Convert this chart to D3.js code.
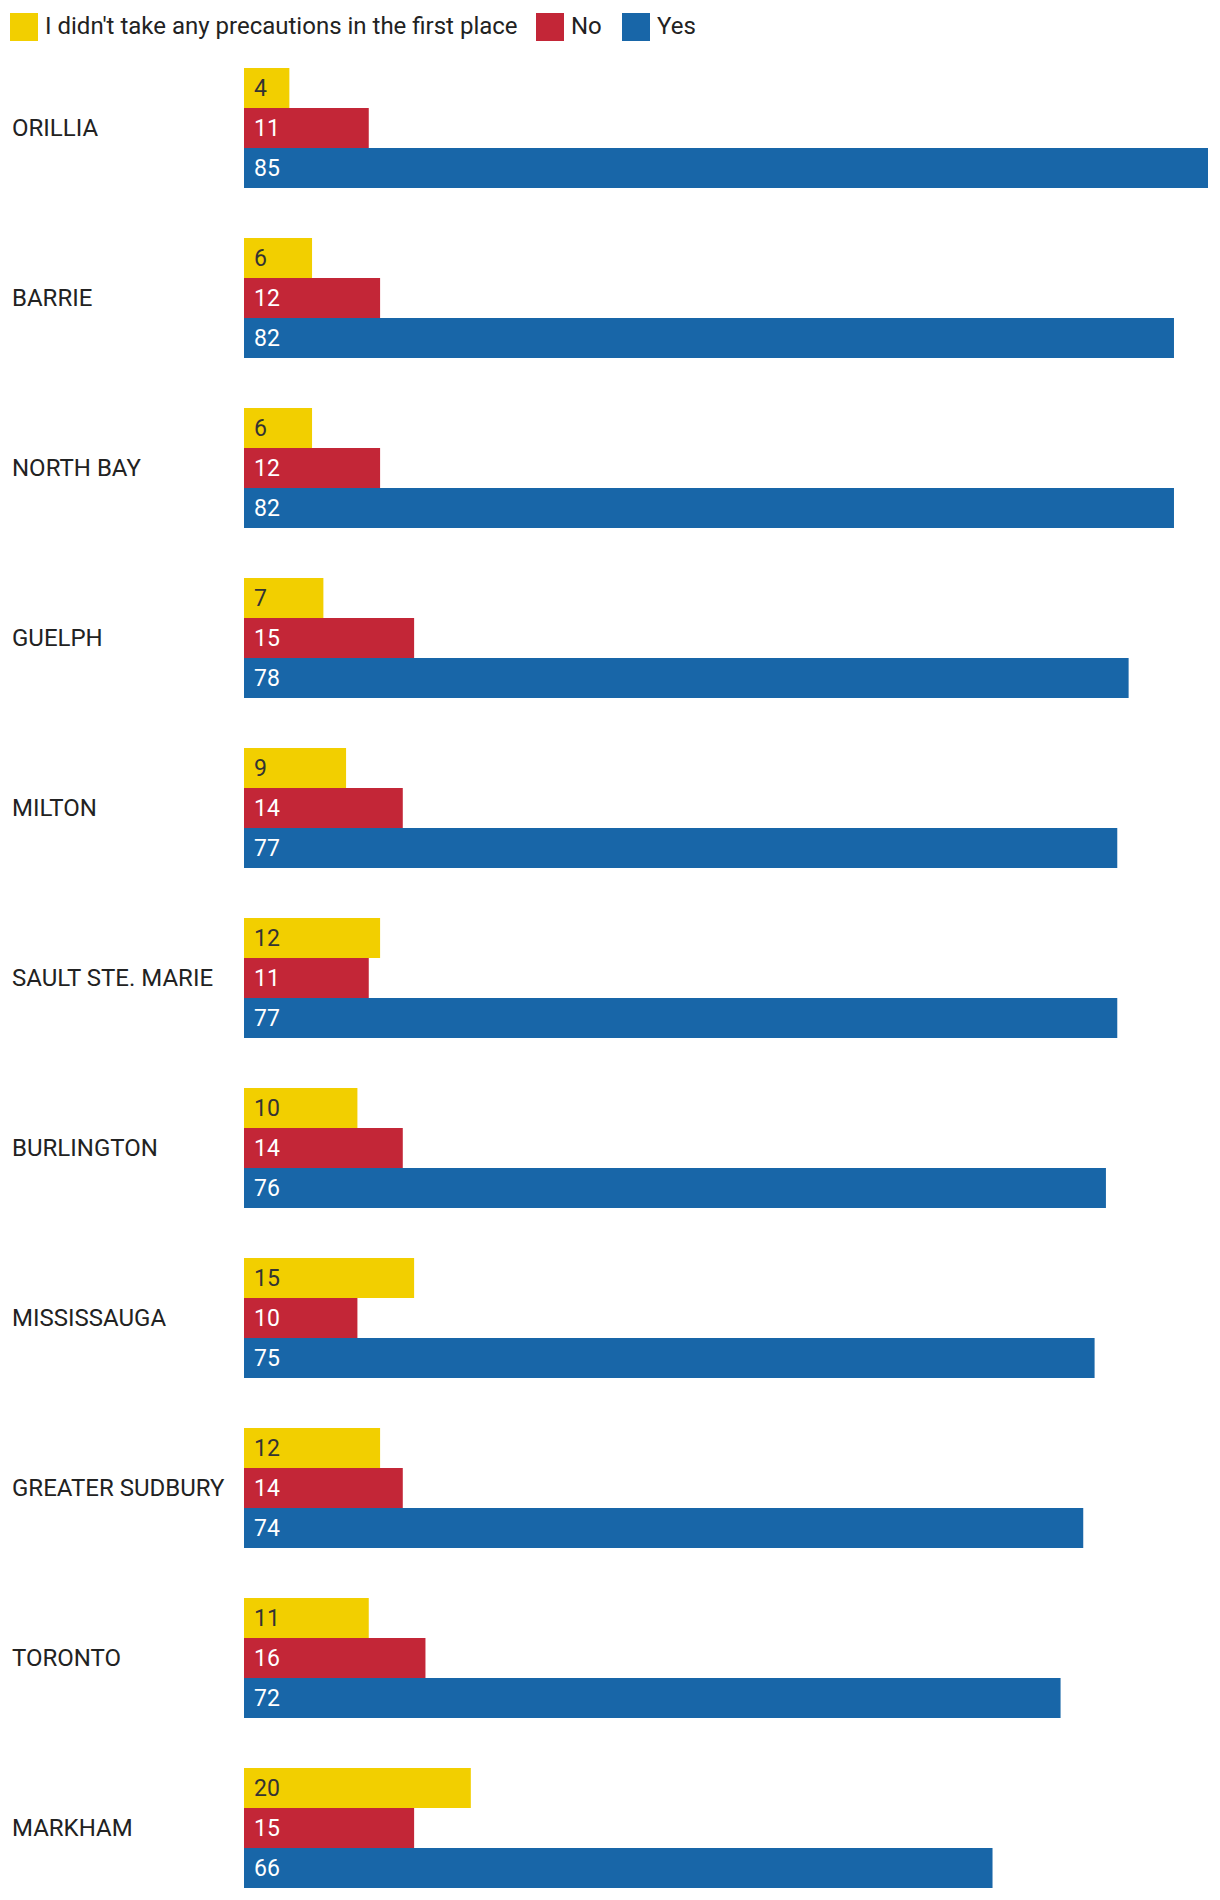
<!DOCTYPE html>
<html>
<head>
<meta charset="utf-8">
<script src="https://cdn.jsdelivr.net/npm/d3@7"></script>
<style>
  html, body { margin: 0; padding: 0; background: #fff; }
  svg { display: block; font-family: Roboto, "Noto Sans", sans-serif; }
</style>
</head>
<body>
<svg id="chart" width="1220" height="1900"></svg>
<script>
const categories = ["ORILLIA", "BARRIE", "NORTH BAY", "GUELPH", "MILTON", "SAULT STE. MARIE", "BURLINGTON", "MISSISSAUGA", "GREATER SUDBURY", "TORONTO", "MARKHAM"];
const seriesNames = ["I didn't take any precautions in the first place", "No", "Yes"];
const noPrecautions = [4, 6, 6, 7, 9, 12, 10, 15, 12, 11, 20];
const noValues = [11, 12, 12, 15, 14, 11, 14, 10, 14, 16, 15];
const yesValues = [85, 82, 82, 78, 77, 77, 76, 75, 74, 72, 66];
const seriesColors = ["#f2cf00", "#c32637", "#1866a8"];
const labelColors = ["#333333", "#ffffff", "#ffffff"];

const seriesValues = [noPrecautions, noValues, yesValues];
const svg = d3.select("#chart");

const x = d3.scaleLinear().domain([0, 85]).range([244, 1208]);
const y = d3.scaleBand().domain(categories).range([68, 1888]).paddingInner(50 / 170).paddingOuter(0);
const yInner = d3.scaleBand().domain(d3.range(seriesNames.length)).range([0, y.bandwidth()]).padding(0);

// Legend
const legend = svg.append("g");
const legendX = [10, 536, 622];
seriesNames.forEach((name, i) => {
  const g = legend.append("g").attr("transform", `translate(${legendX[i]},13)`);
  g.append("rect").attr("width", 28).attr("height", 28).attr("fill", seriesColors[i]);
  g.append("text").attr("x", 35).attr("y", 13).attr("dy", "0.35em")
    .attr("font-size", 24).attr("fill", "#222").text(name);
});

// Groups
const groups = svg.append("g").selectAll("g.cat").data(categories).join("g")
  .attr("class", "cat")
  .attr("transform", d => `translate(0,${y(d)})`);

groups.append("text")
  .attr("x", 12)
  .attr("y", y.bandwidth() / 2)
  .attr("dy", "0.35em")
  .attr("font-size", 24)
  .attr("fill", "#222")
  .text(d => d);

groups.each(function(cat, ci) {
  const g = d3.select(this);
  seriesValues.forEach((vals, si) => {
    g.append("rect")
      .attr("x", x(0))
      .attr("y", yInner(si))
      .attr("width", x(vals[ci]) - x(0))
      .attr("height", yInner.bandwidth())
      .attr("fill", seriesColors[si]);
    g.append("text")
      .attr("x", x(0) + 10)
      .attr("y", yInner(si) + yInner.bandwidth() / 2)
      .attr("dy", "0.35em")
      .attr("font-size", 23)
      .attr("fill", labelColors[si])
      .text(vals[ci]);
  });
});
</script>
</body>
</html>
